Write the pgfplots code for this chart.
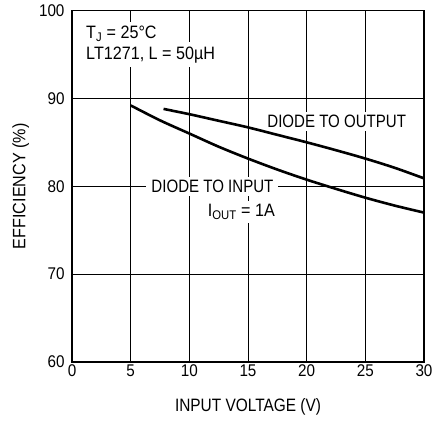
\documentclass[border=0pt]{standalone}
\usepackage{fontspec}
\setmainfont{Liberation Sans}
\usepackage{graphicx}
\usepackage{pgfplots}
\pgfplotsset{compat=1.18}
% condensed look of the datasheet font
\newcommand\cn[2][0.84]{\scalebox{#1}[1]{#2}}

\begin{document}
\begin{tikzpicture}[font=\fontsize{18}{21}\selectfont]
\begin{axis}[
    set layers,
    scale only axis,
    width=352bp, height=351.5bp,
    xmin=0, xmax=30, ymin=60, ymax=100,
    xtick={0,5,...,30}, ytick={60,70,...,100},
    grid=major,
    major grid style={black, line width=0.8bp},
    tick style={draw=none},
    axis line style={line width=1.4bp},
    tick label style={font=\fontsize{17}{20}\selectfont},
    xticklabel={\cn[0.9]{\pgfmathprintnumber[assume math mode=true]{\tick}}},
    yticklabel={\cn[0.9]{\pgfmathprintnumber[assume math mode=true]{\tick}}},
    xticklabel style={yshift=1bp},
    yticklabel style={xshift=-4bp},
    xlabel={\cn[0.86]{INPUT VOLTAGE (V)}},
    ylabel={\cn[0.9]{EFFICIENCY (\%)}},
    xlabel style={at={(axis description cs:0.5,-0.094)}, anchor=north},
    ylabel style={at={(axis description cs:-0.112,0.5)}, anchor=south},
]
% diode to input
\addplot[black, line width=2.6bp, smooth] coordinates {
    (5,89.2) (7.5,87.5) (10,86.0) (12.5,84.5) (15,83.15) (17.5,81.9)
    (20,80.75) (22.5,79.7) (25,78.7) (27.5,77.8) (30,77.0)
};
% diode to output
\addplot[black, line width=2.6bp, smooth] coordinates {
    (7.8,88.8) (10,88.2) (12.5,87.45) (15,86.7) (17.5,85.85) (20,85.0)
    (22.5,84.1) (25,83.15) (27.5,82.1) (30,80.9)
};
% labels sit above the grid but below the curves
\begin{pgfonlayer}{pre main}
\node[fill=white, inner xsep=5bp, inner ysep=3bp, anchor=base] at (axis cs:22.56,86.65) {\cn{DIODE TO OUTPUT}};
\node[fill=white, inner xsep=5bp, inner ysep=3bp, anchor=base] at (axis cs:11.97,79.25) {\cn{DIODE TO INPUT}};
\node[fill=white, inner xsep=5bp, inner ysep=3bp, anchor=base east] at (axis cs:17.73,76.53) {\cn[0.9]{I\textsubscript{OUT} = 1A}};
\node[fill=white, inner xsep=5bp, inner ysep=4bp, anchor=base west] at (axis cs:0.77,94.48) {\cn[0.9]{LT1271, L = 50µH}};
\node[fill=white, inner xsep=5bp, inner ysep=4bp, anchor=base west] at (axis cs:0.77,96.81) {\cn[0.9]{T\textsubscript{J} = 25°C}};
\end{pgfonlayer}
\end{axis}
\pgfresetboundingbox
\path[use as bounding box] ([xshift=-72bp,yshift=-59bp]current axis.south west)
    rectangle ([xshift=9bp,yshift=10.5bp]current axis.north east);
\end{tikzpicture}
\end{document}
